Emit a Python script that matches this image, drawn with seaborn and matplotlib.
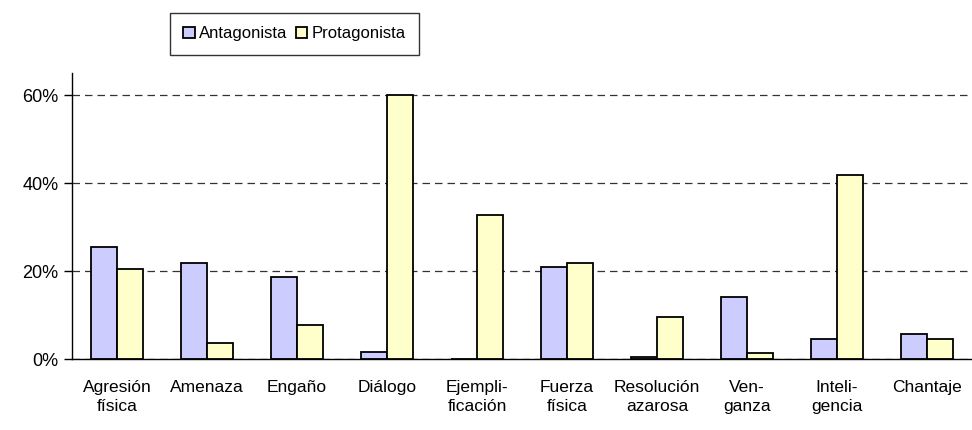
import pandas as pd
import matplotlib.pyplot as plt
import seaborn as sns
from matplotlib.ticker import PercentFormatter

# datos
categorias = ["Agresión\nfísica", "Amenaza", "Engaño", "Diálogo", "Ejempli-\nficación",
              "Fuerza\nfísica", "Resolución\nazarosa", "Ven-\nganza", "Inteli-\ngencia", "Chantaje"]
antagonista = [25.4, 21.8, 18.6, 1.7, 0.0, 20.9, 0.5, 14.0, 4.5, 5.8]
protagonista = [20.4, 3.6, 7.7, 60.0, 32.7, 21.8, 9.5, 1.3, 41.8, 4.5]
series = ["Antagonista", "Protagonista"]
colores = ["#CCCCFF", "#FFFFCC"]

df = pd.DataFrame({
    "categoria": categorias * 2,
    "valor": [v / 100 for v in antagonista + protagonista],
    "rol": [series[0]] * len(categorias) + [series[1]] * len(categorias),
})

sns.set_style("white")
plt.rcParams["font.family"] = ["Liberation Sans", "DejaVu Sans"]
plt.rcParams["text.color"] = "black"
plt.rcParams["xtick.color"] = "black"
plt.rcParams["ytick.color"] = "black"

fig = plt.figure(figsize=(9.72, 4.30), dpi=100)
ax = fig.add_axes([0.074, 0.165, 0.926, 0.665])

sns.barplot(data=df, x="categoria", y="valor", hue="rol", palette=colores,
            width=0.58, edgecolor="black", linewidth=1.3, saturation=1, ax=ax)

ax.set_xlim(-0.5, len(categorias) - 0.5)
ax.set_ylim(0, 0.65)
ax.set_yticks([0, 0.2, 0.4, 0.6])
ax.yaxis.set_major_formatter(PercentFormatter(1.0, decimals=0))
ax.grid(axis="y", color="#333333", linestyle=(0, (6, 4)), linewidth=0.9)
ax.set_axisbelow(True)
ax.set_xlabel("")
ax.set_ylabel("")

# ticks en los limites de las categorias
ax.set_xticks(range(len(categorias)))
ax.set_xticklabels(categorias, fontsize=12.5, linespacing=1.35)
ax.set_xticks([i + 0.5 for i in range(-1, len(categorias))], minor=True)
ax.tick_params(axis="x", which="major", length=0, pad=15)
ax.tick_params(axis="x", which="minor", length=6, width=1, direction="out", color="black")
ax.tick_params(axis="y", length=6, width=1, direction="out", color="black", labelsize=13, left=True)

for s in ["top", "right"]:
    ax.spines[s].set_visible(False)
for s in ["left", "bottom"]:
    ax.spines[s].set_color("black")
    ax.spines[s].set_linewidth(1)

leg = ax.legend(loc="center", bbox_to_anchor=(0.303, 0.921), bbox_transform=fig.transFigure,
                ncol=2, fontsize=12, frameon=True, fancybox=False, handlelength=0.7,
                handleheight=0.7, handletextpad=0.25, columnspacing=0.5, borderpad=0.8,
                borderaxespad=0)
leg.get_frame().set_edgecolor("black")
leg.get_frame().set_linewidth(1)

fig.savefig("out.png", dpi=100)
